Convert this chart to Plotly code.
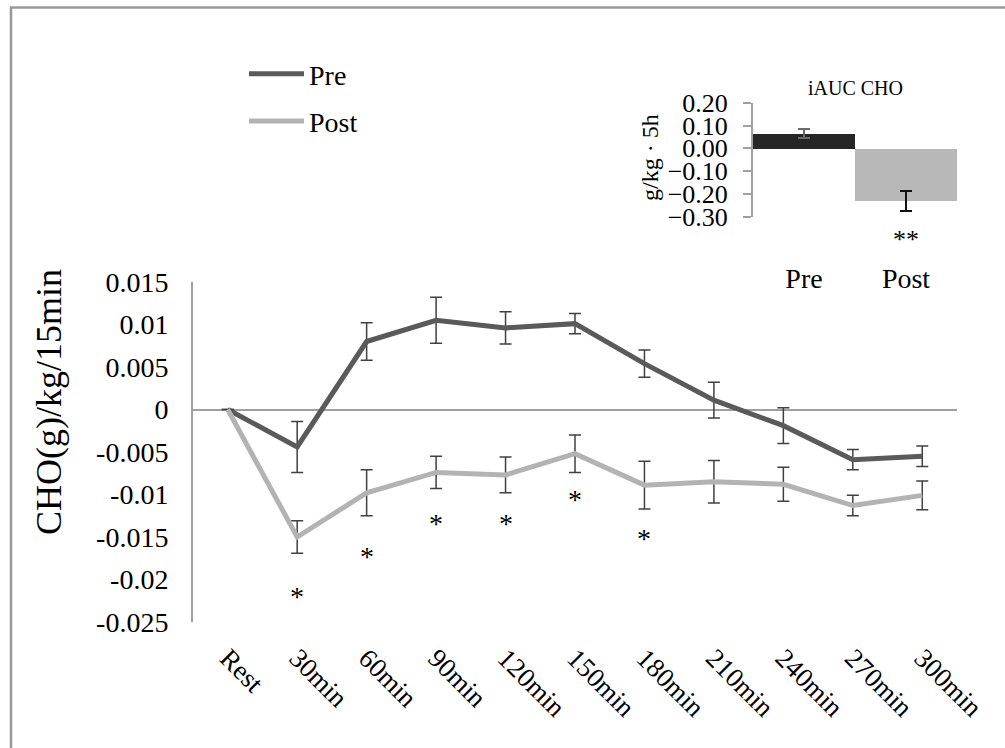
import plotly.graph_objects as go

# ---------------- data ----------------
categories = ["Rest", "30min", "60min", "90min", "120min", "150min",
              "180min", "210min", "240min", "270min", "300min"]
pre_mean = [0.0, -0.0044, 0.0080, 0.0105, 0.0096, 0.0101, 0.0054, 0.0011, -0.0019, -0.0059, -0.0055]
pre_err = [0.0, 0.0030, 0.0022, 0.0027, 0.0019, 0.0012, 0.0016, 0.0021, 0.0021, 0.0012, 0.0012]
post_mean = [0.0, -0.0150, -0.0098, -0.0074, -0.0077, -0.0052, -0.0089, -0.0085, -0.0088, -0.0113, -0.0101]
post_err = [0.0, 0.0019, 0.0027, 0.0019, 0.0021, 0.0022, 0.0028, 0.0025, 0.0020, 0.0012, 0.0017]

sig_labels = ["30min", "60min", "90min", "120min", "150min", "180min"]
sig_y = [-0.0216, -0.0169, -0.0131, -0.0131, -0.0102, -0.0148]

y_tickvals = [0.015, 0.01, 0.005, 0.0, -0.005, -0.01, -0.015, -0.02, -0.025]
y_ticktext = ["0.015", "0.01", "0.005", "0", "-0.005", "-0.01", "-0.015", "-0.02", "-0.025"]

iauc_groups = ["Pre", "Post"]
iauc_mean = [0.066, -0.231]
iauc_err = [0.020, 0.044]
iauc_tickvals = [0.2, 0.1, 0.0, -0.1, -0.2, -0.3]

# ---------------- figure ----------------
W, H = 1005, 748
FONT = "Liberation Serif, Times New Roman, serif"
AXGRAY = "#a0a0a0"

def px_x(p):
    return p / W

def px_y(p):
    return 1 - p / H

fig = go.Figure()

fig.add_trace(go.Scatter(
    x=categories, y=pre_mean, name="Pre", mode="lines",
    line=dict(color="#5a5a5a", width=5),
    error_y=dict(type="data", array=pre_err, visible=True,
                 color="#404040", thickness=1.5, width=6),
    xaxis="x", yaxis="y", legendgroup="a"))
fig.add_trace(go.Scatter(
    x=categories, y=post_mean, name="Post", mode="lines",
    line=dict(color="#b3b3b3", width=5),
    error_y=dict(type="data", array=post_err, visible=True,
                 color="#404040", thickness=1.5, width=6),
    xaxis="x", yaxis="y", legendgroup="b"))

# inset bars
bar_colors = ["#262626", "#b8b8b8"]
err_colors = ["#6a6a6a", "#111111"]
for g, m, e, c, ec in zip(iauc_groups, iauc_mean, iauc_err, bar_colors, err_colors):
    fig.add_trace(go.Bar(
        x=[g], y=[m], marker=dict(color=c, line=dict(width=0)), width=1.0,
        error_y=dict(type="data", array=[e], visible=True, color=ec,
                     thickness=2, width=6),
        xaxis="x2", yaxis="y2", showlegend=False))

annotations = []
for lab, yv in zip(sig_labels, sig_y):
    annotations.append(dict(x=lab, y=yv, xref="x", yref="y", text="*",
                            showarrow=False, yshift=-3,
                            xanchor="center", yanchor="middle",
                            font=dict(family=FONT, size=28, color="black")))

annotations.append(dict(x="Post", y=px_y(240), xref="x2", yref="paper", text="**",
                        showarrow=False, xanchor="center", yanchor="middle",
                        font=dict(family=FONT, size=26, color="black")))
annotations.append(dict(x=px_x(855), y=px_y(88), xref="paper", yref="paper",
                        text="iAUC CHO", showarrow=False,
                        xanchor="center", yanchor="middle",
                        font=dict(family=FONT, size=20, color="black")))
annotations.append(dict(x=px_x(650), y=px_y(158), xref="paper", yref="paper",
                        text="g/kg · 5h", showarrow=False, textangle=-90,
                        xanchor="center", yanchor="middle",
                        font=dict(family=FONT, size=24, color="black")))
annotations.append(dict(x=px_x(49), y=px_y(402), xref="paper", yref="paper",
                        text="CHO(g)/kg/15min", showarrow=False, textangle=-90,
                        xanchor="center", yanchor="middle",
                        font=dict(family=FONT, size=36, color="black")))

shapes = [
    dict(type="line", xref="paper", yref="paper", x0=px_x(11), x1=px_x(11),
         y0=px_y(7), y1=-0.05, line=dict(color="#999999", width=2.5)),
    dict(type="line", xref="paper", yref="paper", x0=px_x(10), x1=1.05,
         y0=px_y(7.5), y1=px_y(7.5), line=dict(color="#999999", width=2.5)),
]

fig.update_layout(
    width=W, height=H,
    margin=dict(l=0, r=0, t=0, b=0),
    paper_bgcolor="white", plot_bgcolor="rgba(0,0,0,0)",
    font=dict(family=FONT, color="black"),
    barmode="overlay", bargap=0,
    showlegend=True,
    legend=dict(x=px_x(244), y=px_y(49), xanchor="left", yanchor="top",
                font=dict(family=FONT, size=28, color="black"),
                bgcolor="rgba(0,0,0,0)", traceorder="grouped",
                tracegroupgap=8, itemwidth=55),
    xaxis=dict(domain=[px_x(193), px_x(957)], anchor="y",
               type="category", categoryorder="array", categoryarray=categories,
               range=[-0.5, 10.5], showline=False, showgrid=False, zeroline=False,
               ticks="", tickangle=45, ticklabelstandoff=14,
               tickfont=dict(family=FONT, size=27, color="black"), automargin=False),
    yaxis=dict(domain=[px_y(622), px_y(282)], anchor="x",
               range=[-0.025, 0.015], showgrid=False,
               showline=True, linecolor=AXGRAY, linewidth=2,
               zeroline=True, zerolinecolor=AXGRAY, zerolinewidth=2,
               tickvals=y_tickvals, ticktext=y_ticktext, ticks="",
               ticklabelstandoff=17,
               tickfont=dict(family=FONT, size=28, color="black"), automargin=False),
    xaxis2=dict(domain=[px_x(753), px_x(957)], anchor="free", position=px_y(259),
                type="category", categoryorder="array", categoryarray=iauc_groups,
                range=[-0.5, 1.5], showline=False, showgrid=False, zeroline=False,
                ticks="", tickfont=dict(family=FONT, size=28, color="black"),
                automargin=False),
    yaxis2=dict(domain=[px_y(216.7), px_y(102.7)], anchor="x2",
                range=[-0.3, 0.2], showgrid=False, zeroline=False,
                showline=True, linecolor=AXGRAY, linewidth=2,
                ticks="outside", ticklen=8, tickcolor=AXGRAY, tickwidth=2,
                tickvals=iauc_tickvals, tickformat=".2f",
                ticklabelstandoff=10,
                tickfont=dict(family=FONT, size=26, color="black"), automargin=False),
    annotations=annotations,
    shapes=shapes,
)

fig.write_html("out.html")
